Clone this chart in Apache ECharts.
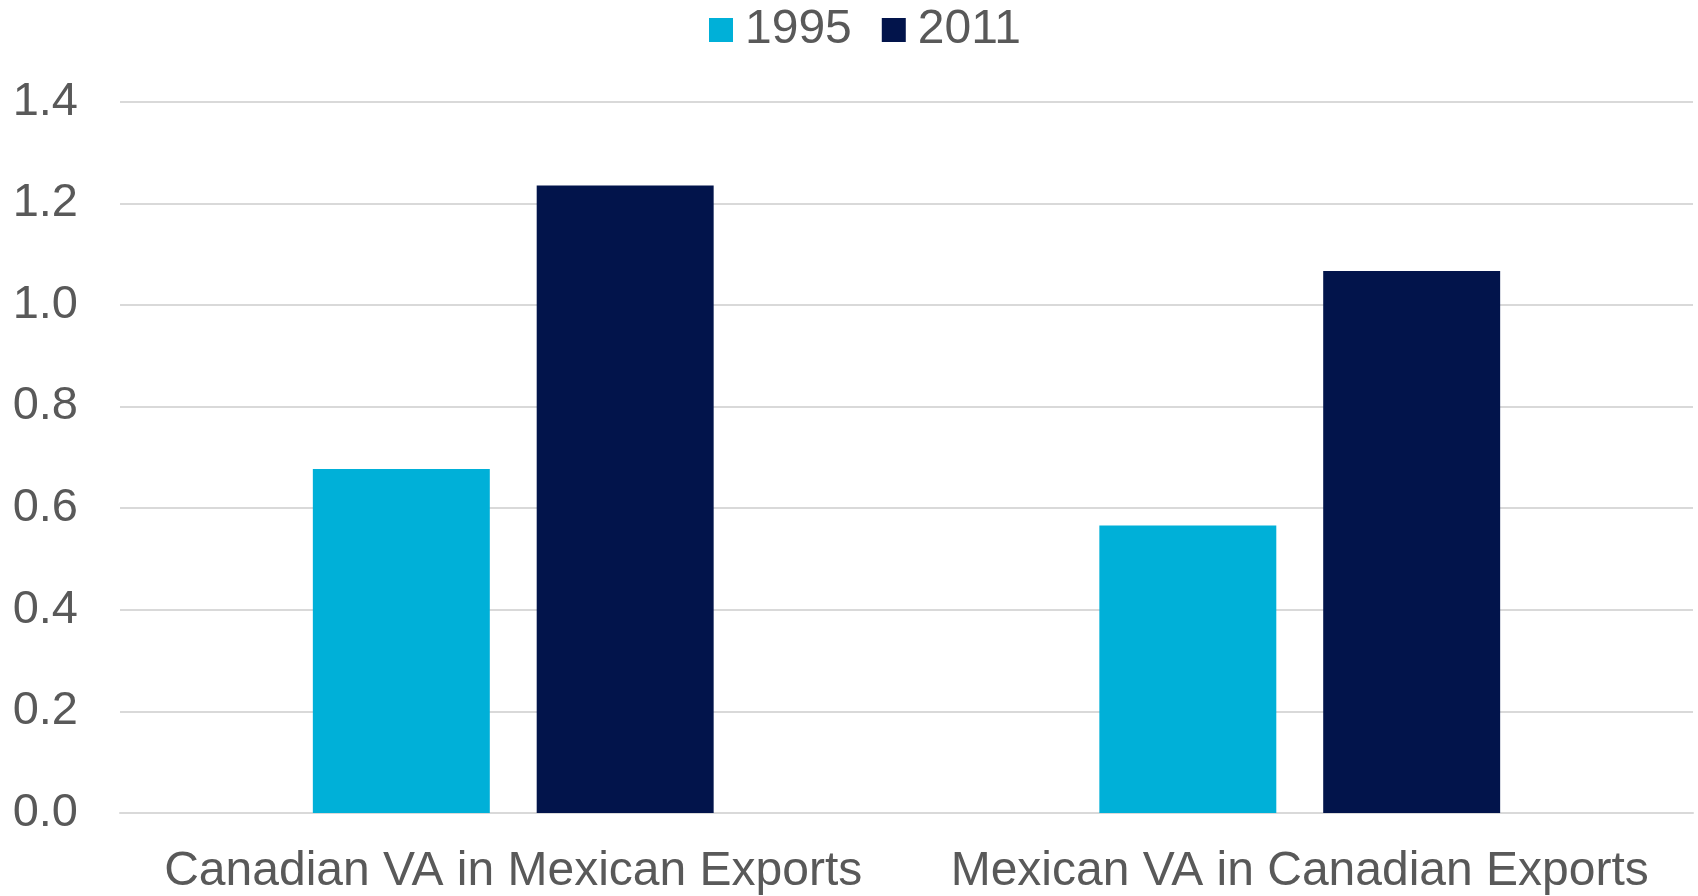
<!DOCTYPE html>
<html>
<head>
<meta charset="utf-8">
<script src="https://cdn.jsdelivr.net/npm/echarts@6/dist/echarts.min.js"></script>
<style>html,body{margin:0;padding:0;background:#fff}#c{width:1698px;height:896px}</style>
</head>
<body>
<div id="c"></div>
<script>
const categories = ["Canadian VA in Mexican Exports", "Mexican VA in Canadian Exports"];
const seriesNames = ["1995", "2011"];
const values1995 = [0.677, 0.566];
const values2011 = [1.235, 1.067];
const yTicks = [0.0, 0.2, 0.4, 0.6, 0.8, 1.0, 1.2, 1.4];

const font = "'Liberation Sans', Arial, sans-serif";
const chart = echarts.init(document.getElementById('c'));
chart.setOption({
  animation: false,
  backgroundColor: '#fff',
  legend: {
    top: 1, left: 704,
    itemWidth: 24, itemHeight: 24, itemGap: 30,
    icon: 'rect',
    textStyle: { fontFamily: font, fontSize: 48, color: '#595959', padding: [0, 0, 0, 7] },
    data: seriesNames
  },
  grid: { left: 120, right: 5, top: 101.7, bottom: 82.7, containLabel: false },
  xAxis: {
    type: 'category', data: categories,
    axisLine: { show: true, lineStyle: { color: '#d9d9d9', width: 2 } },
    axisTick: { show: false },
    axisLabel: { fontFamily: font, fontSize: 48, color: '#595959', margin: 35, interval: 0 }
  },
  yAxis: {
    type: 'value', min: yTicks[0], max: yTicks[yTicks.length - 1], interval: 0.2,
    axisLine: { show: false }, axisTick: { show: false },
    splitLine: { lineStyle: { color: '#d9d9d9', width: 2 } },
    axisLabel: { fontFamily: font, fontSize: 47, color: '#595959', margin: 42,
      formatter: v => v.toFixed(1) }
  },
  series: [
    { name: seriesNames[0], type: 'bar', data: values1995, barWidth: '22.5%', barGap: '26.5%',
      itemStyle: { color: '#00B0D8' } },
    { name: seriesNames[1], type: 'bar', data: values2011, barWidth: '22.5%', barGap: '26.5%',
      itemStyle: { color: '#02144B' } }
  ]
});
</script>
</body>
</html>
